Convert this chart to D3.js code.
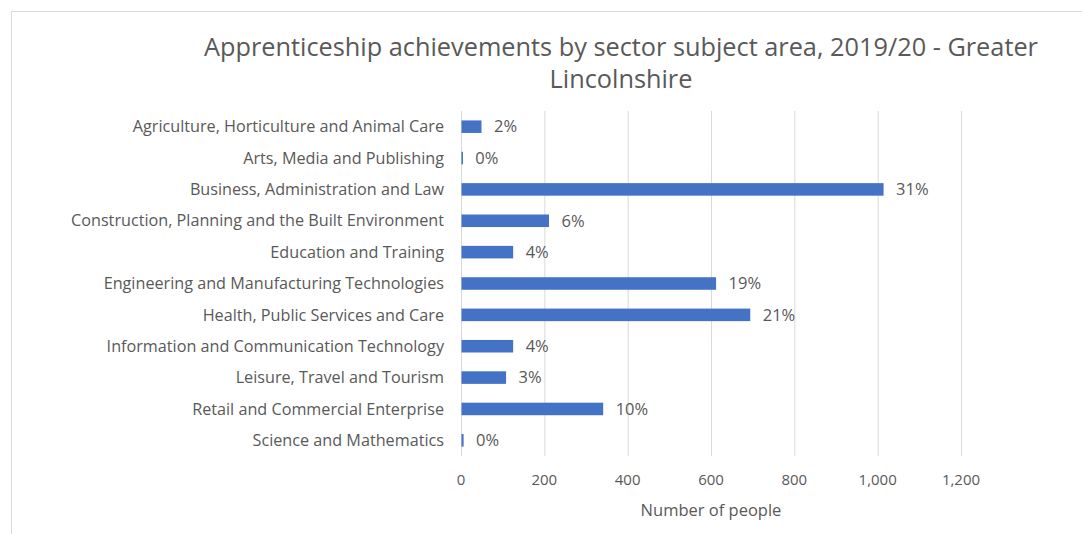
<!DOCTYPE html>
<html>
<head>
<meta charset="utf-8">
<script src="https://cdn.jsdelivr.net/npm/d3@7"></script>
<style>
  html, body { margin: 0; padding: 0; background: #fff; }
  svg { display: block; font-family: "Open Sans", "Liberation Sans", sans-serif; }
</style>
</head>
<body>
<svg id="chart" width="1082" height="534"></svg>
<script>
// Sector subject areas, top to bottom
const categories = [
  "Agriculture, Horticulture and Animal Care",
  "Arts, Media and Publishing",
  "Business, Administration and Law",
  "Construction, Planning and the Built Environment",
  "Education and Training",
  "Engineering and Manufacturing Technologies",
  "Health, Public Services and Care",
  "Information and Communication Technology",
  "Leisure, Travel and Tourism",
  "Retail and Commercial Enterprise",
  "Science and Mathematics"
];
// Apprenticeship achievements (number of people)
const achievements = [48, 3, 1013, 210, 124, 611, 693, 124, 107, 340, 5];
// Share of all achievements
const shareLabels = ["2%", "0%", "31%", "6%", "4%", "19%", "21%", "4%", "3%", "10%", "0%"];
const xTicks = [0, 200, 400, 600, 800, 1000, 1200];
const titleLines = ["Apprenticeship achievements by sector subject area, 2019/20 - Greater", "Lincolnshire"];
const xTitle = "Number of people";

const svg = d3.select("#chart");
const textColor = "#595959";

// Chart frame
svg.append("rect")
  .attr("x", 11.5).attr("y", 11.5)
  .attr("width", 1100).attr("height", 600)
  .attr("fill", "none").attr("stroke", "#d9d9d9").attr("stroke-width", 1);

const plot = { left: 461, right: 961, top: 111, bottom: 456 };

const x = d3.scaleLinear().domain([0, 1200]).range([plot.left, plot.right]);
const y = d3.scaleBand().domain(categories).range([plot.top, plot.bottom]).paddingInner(0.6).paddingOuter(0.3);

// Title
svg.append("text")
  .attr("x", 621).attr("y", 56)
  .attr("text-anchor", "middle")
  .attr("fill", textColor)
  .style("font-size", "25.3px")
  .selectAll("tspan").data(titleLines).join("tspan")
  .attr("x", 621).attr("dy", (d, i) => i === 0 ? 0 : 32)
  .text(d => d);

// Vertical gridlines
svg.append("g").selectAll("line").data(xTicks.slice(1)).join("line")
  .attr("x1", d => x(d) + 0.5).attr("x2", d => x(d) + 0.5)
  .attr("y1", plot.top).attr("y2", plot.bottom)
  .attr("stroke", "#d9d9d9").attr("stroke-width", 1);

// Category axis line
svg.append("line")
  .attr("x1", x(0) + 0.5).attr("x2", x(0) + 0.5)
  .attr("y1", plot.top).attr("y2", plot.bottom)
  .attr("stroke", "#d9d9d9");

// Bars
svg.append("g").selectAll("rect").data(categories).join("rect")
  .attr("x", x(0) + 0.5)
  .attr("y", d => y(d))
  .attr("width", (d, i) => Math.max(1.5, x(achievements[i]) - x(0)))
  .attr("height", y.bandwidth())
  .attr("fill", "#4472c4");

// Data labels
svg.append("g").selectAll("text").data(categories).join("text")
  .attr("x", (d, i) => x(achievements[i]) + 13)
  .attr("y", d => y(d) + y.bandwidth() / 2)
  .attr("dy", "0.35em")
  .attr("fill", textColor)
  .style("font-size", "16.5px")
  .text((d, i) => shareLabels[i]);

// Category labels
svg.append("g").selectAll("text").data(categories).join("text")
  .attr("x", 444)
  .attr("y", d => y(d) + y.bandwidth() / 2)
  .attr("dy", "0.35em")
  .attr("text-anchor", "end")
  .attr("fill", textColor)
  .style("font-size", "16.2px")
  .text(d => d);

// Value axis tick labels
svg.append("g").selectAll("text").data(xTicks).join("text")
  .attr("x", d => x(d))
  .attr("y", 480)
  .attr("dy", "0.35em")
  .attr("text-anchor", "middle")
  .attr("fill", textColor)
  .style("font-size", "15px")
  .text(d => d3.format(",")(d));

// Value axis title
svg.append("text")
  .attr("x", x(600)).attr("y", 510)
  .attr("dy", "0.35em")
  .attr("text-anchor", "middle")
  .attr("fill", textColor)
  .style("font-size", "16.5px")
  .text(xTitle);
</script>
</body>
</html>
